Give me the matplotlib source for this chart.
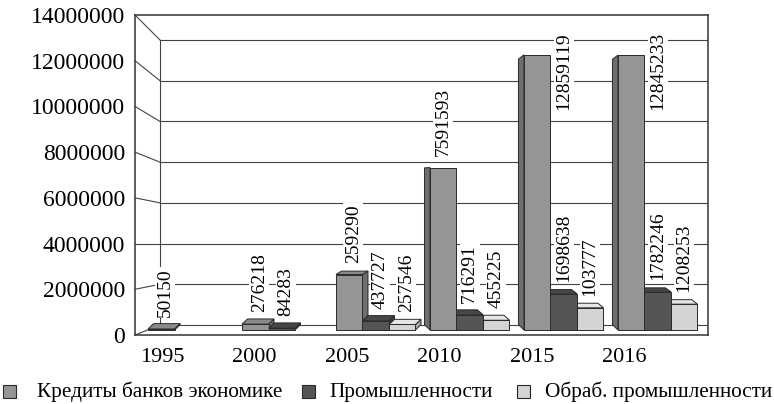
import numpy as np
import matplotlib.pyplot as plt
from matplotlib.patches import Polygon, Rectangle

plt.rcParams['font.family'] = ['Liberation Serif', 'DejaVu Serif']

# данные
years = ['1995', '2000', '2005', '2010', '2015', '2016']
series = ['Кредиты банков экономике', 'Промышленности', 'Обраб. промышленности']
credits = [50150, 276218, 2592900, 7591593, 12859119, 12845233]
industry = [np.nan, 84283, 437727, 716291, 1698638, 1782246]
manufact = [np.nan, np.nan, 257546, 455225, 1037770, 1208253]
# подписи как на рисунке
credits_lbl = ['50150', '276218', '259290', '7591593', '12859119', '12845233']
industry_lbl = ['', '84283', '437727', '716291', '1698638', '1782246']
manufact_lbl = ['', '', '257546', '455225', '103777', '1208253']
yticks = np.arange(0, 14000001, 2000000)

colors = ['#959595', '#555555', '#d4d4d4']
side_colors = ['#6e6e6e', '#3c3c3c', '#a9a9a9']
top_colors = ['#8a8a8a', '#474747', '#e6e6e6']
edge = '#2a2a2a'

# пиксели -> координаты осей
PX_X = 1 / 92.5
PX_Y = 14e6 / 320
fig = plt.figure(figsize=(7.74, 4.04), dpi=100)
ax = fig.add_axes([135 / 774, (404 - 335) / 404, 573 / 774, 320 / 404])
ax.set_xlim((135 - 162) * PX_X, (708 - 162) * PX_X)
ax.set_ylim(0, 14e6)

# задняя стенка
def back_y(v):
    return 10 * PX_Y + 285 / 320 * v
xb = (160 - 162) * PX_X
x_left, x_right = ax.get_xlim()
for v in yticks:
    ax.plot([xb, x_right], [back_y(v), back_y(v)], color='#444444', lw=0.8, zorder=1)
    ax.plot([x_left, xb], [v, back_y(v)], color='#444444', lw=0.8, zorder=1)
ax.plot([xb, xb], [back_y(0), back_y(14e6)], color='#444444', lw=0.8, zorder=1)

# столбцы (псевдо-3D)
m0 = 5 * PX_Y
km = 21.4 / (320 / 14)
w = 26.5 * PX_X
vpx = (418 - 162) * PX_X
vpy = (335 - 177) * PX_Y
K = 0.035
shift = 5.5 * PX_X

bars = []
for j, (vals, lbls) in enumerate([(credits, credits_lbl), (industry, industry_lbl),
                                  (manufact, manufact_lbl)]):
    for i in range(len(years)):
        if np.isnan(vals[i]):
            continue
        x0 = -0.151 + 1.016 * i + j * w
        bars.append((x0, vals[i], lbls[i], j))

bars.sort(key=lambda b: -abs(b[0] + w / 2 - vpx))
for z, (x0, v, lbl, j) in enumerate(bars):
    x1 = x0 + w
    y0 = m0
    yt = m0 + km * v
    dx = -shift if x0 + w / 2 > vpx else shift
    y0b = y0 + K * (vpy - y0)
    ytb = yt + K * (vpy - yt)
    zo = 2 + z * 0.01
    if dx < 0:
        side = [(x0, y0), (x0, yt), (x0 + dx, ytb), (x0 + dx, y0b)]
    else:
        side = [(x1, y0), (x1, yt), (x1 + dx, ytb), (x1 + dx, y0b)]
    ax.add_patch(Polygon(side, closed=True, fc=side_colors[j], ec=edge, lw=0.7, zorder=zo))
    if yt < vpy:
        top = [(x0, yt), (x1, yt), (x1 + dx, ytb), (x0 + dx, ytb)]
        ax.add_patch(Polygon(top, closed=True, fc=top_colors[j], ec=edge, lw=0.7, zorder=zo))
    ax.add_patch(Polygon([(x0, y0), (x1, y0), (x1, yt), (x0, yt)], closed=True,
                         fc=colors[j], ec=edge, lw=0.7, zorder=zo))

    # подпись
    xc = x0 + w / 2 + (4 * PX_X if dx > 0 else 0)
    top_px = 335 - yt / PX_Y
    if top_px - 12 - len(lbl) * 9.75 < 25:
        ax.text(xc + w, 14e6 - 17 * PX_Y, lbl, rotation=90, ha='center', va='top',
                fontsize=14, zorder=5,
                bbox=dict(fc='white', ec='none', pad=1))
    else:
        ax.annotate(lbl, xy=(xc, yt), xytext=(0, 12), textcoords='offset pixels',
                    rotation=90, ha='center', va='bottom', fontsize=14, zorder=5,
                    bbox=dict(fc='white', ec='none', pad=1))

ax.set_xticks(range(len(years)))
ax.set_xticklabels(years)
ax.set_yticks(yticks)
ax.set_yticklabels([str(t) for t in yticks])
ax.tick_params(length=0, labelsize=16, pad=9)
ax.tick_params(axis='y', labelsize=17, pad=7)
for s in ax.spines.values():
    s.set_color('#333333')
    s.set_linewidth(1.1)

# легенда внизу
marker_x = [3, 302, 517]
text_x = [37, 329, 545]
for k, name in enumerate(series):
    fig.add_artist(Rectangle((marker_x[k] / 774, (404 - 398) / 404), 13 / 774, 13 / 404,
                             transform=fig.transFigure, fc=colors[k], ec=edge, lw=0.8))
    fig.text(text_x[k] / 774, (404 - 392) / 404, name, fontsize=15.3,
             ha='left', va='center')

fig.savefig('out.png', dpi=100)
